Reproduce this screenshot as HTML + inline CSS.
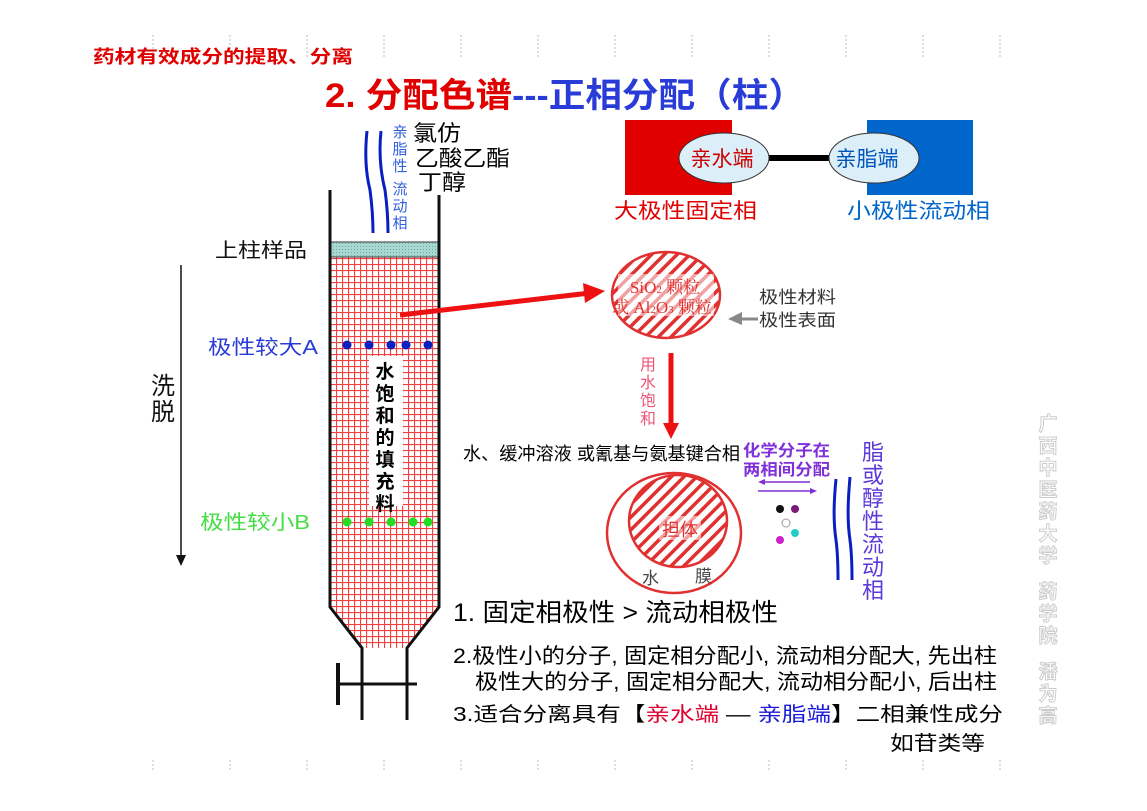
<!DOCTYPE html>
<html><head><meta charset="utf-8"><style>
html,body{margin:0;padding:0;background:#fff}
svg{display:block}
text{font-family:"Liberation Sans","Noto Sans CJK SC",sans-serif}
.s{font-family:"Liberation Serif","Noto Serif CJK SC",serif}
</style></head><body>
<svg width="1147" height="811" viewBox="0 0 1147 811" xmlns="http://www.w3.org/2000/svg">
<defs>
<pattern id="grid" width="6" height="6" patternUnits="userSpaceOnUse">
<rect width="6" height="6" fill="#fff"/>
<path d="M0 0.5H6M0.5 0V6" stroke="#f04040" stroke-width="1.2"/>
</pattern>
<pattern id="hatch" width="9" height="9" patternUnits="userSpaceOnUse" patternTransform="rotate(-45)">
<rect width="9" height="9" fill="#fff"/>
<rect width="9" height="3.5" fill="#e03030"/>
</pattern>
<pattern id="cap" width="3" height="3" patternUnits="userSpaceOnUse">
<rect width="3" height="3" fill="#a8d8d0"/><rect width="1" height="1" fill="#6aa"/>
</pattern>
</defs>
<g stroke="#ddd" stroke-width="2" stroke-dasharray="2,2">
<path d="M153 35V58M230 35V58M307 35V58M384 35V58M461 35V58M538 35V58M615 35V58M692 35V58M769 35V58M846 35V58M923 35V58M1000 35V58"/>
<path d="M153 760V772M230 760V772M307 760V772M384 760V772M461 760V772M538 760V772M615 760V772M692 760V772M769 760V772M846 760V772M923 760V772M1000 760V772"/>
</g>
<text x="93" y="63" font-size="18" font-weight="bold" fill="#e00000" textLength="260" lengthAdjust="spacingAndGlyphs">药材有效成分的提取、分离</text>
<text x="325" y="107" font-size="34" font-weight="bold" fill="#e00000" textLength="480" lengthAdjust="spacingAndGlyphs">2. 分配色谱<tspan fill="#2a3cd8">---正相分配（柱）</tspan></text>
<path d="M331 257V607L362 648H407L438 607V257Z" fill="url(#grid)"/>
<rect x="331" y="242" width="107" height="15" fill="url(#cap)" stroke="#333"/>
<path d="M330 190V607L362 648V720" fill="none" stroke="#111" stroke-width="3"/>
<path d="M439 195V607L407 648V720" fill="none" stroke="#111" stroke-width="3"/>
<path d="M338 663V705" stroke="#111" stroke-width="4"/>
<path d="M338 684H417" stroke="#111" stroke-width="3"/>
<rect x="369" y="356" width="34" height="150" fill="#fff"/>
<g font-size="19" fill="#000" font-weight="bold" text-anchor="middle">
<text x="385" y="378">水</text><text x="385" y="400">饱</text><text x="385" y="422">和</text><text x="385" y="444">的</text><text x="385" y="466">填</text><text x="385" y="488">充</text><text x="385" y="510">料</text></g>
<g fill="#0a1fbf"><circle cx="347" cy="345" r="4.5"/><circle cx="369" cy="345" r="4.5"/><circle cx="391" cy="345" r="4.5"/><circle cx="406" cy="345" r="4.5"/><circle cx="428" cy="345" r="4.5"/></g>
<g fill="#22dd22"><circle cx="347" cy="522" r="4.5"/><circle cx="369" cy="522" r="4.5"/><circle cx="391" cy="522" r="4.5"/><circle cx="413" cy="522" r="4.5"/><circle cx="428" cy="522" r="4.5"/></g>
<text x="215" y="257" font-size="20" fill="#111" textLength="92" lengthAdjust="spacingAndGlyphs">上柱样品</text>
<text x="208" y="354" font-size="20" fill="#2a3cd8" textLength="110" lengthAdjust="spacingAndGlyphs">极性较大A</text>
<text x="200" y="529" font-size="20" fill="#44dd44" textLength="110" lengthAdjust="spacingAndGlyphs">极性较小B</text>
<text x="151" y="394" font-size="24" fill="#111">洗</text>
<text x="151" y="420" font-size="24" fill="#111">脱</text>
<path d="M181 265V555" stroke="#111" stroke-width="1.5"/>
<path d="M176 555L181 566L186 555Z" fill="#111"/>
<path d="M367 131C365 150 365 170 370 190C372 205 373 220 373 233" fill="none" stroke="#0a1fbf" stroke-width="3"/>
<path d="M381 131C379 150 380 170 385 190C387 205 388 220 388 233" fill="none" stroke="#0a1fbf" stroke-width="3"/>
<g font-size="15" fill="#3060e0" text-anchor="middle"><text x="400" y="137">亲</text><text x="400" y="154">脂</text><text x="400" y="171">性</text><text x="400" y="194">流</text><text x="400" y="211">动</text><text x="400" y="228">相</text></g>
<g font-size="22" fill="#000"><text x="413" y="141" textLength="48" lengthAdjust="spacingAndGlyphs">氯仿</text><text x="415" y="166" textLength="95" lengthAdjust="spacingAndGlyphs">乙酸乙酯</text><text x="418" y="190" textLength="48" lengthAdjust="spacingAndGlyphs">丁醇</text></g>
<path d="M400 315L590 293" stroke="#ee1111" stroke-width="5"/>
<path d="M583 283L605 291L585 303Z" fill="#ee1111"/>
<ellipse cx="666" cy="295" rx="54" ry="43" fill="url(#hatch)" stroke="#e03030" stroke-width="2.5"/>
<rect x="618" y="274" width="96" height="42" fill="#fff" opacity="0.55"/>
<text x="665" y="293" font-size="17" fill="#e03030" text-anchor="middle" class="s">SiO<tspan font-size="11">2</tspan> 颗粒</text>
<text x="662" y="313" font-size="17" fill="#e03030" text-anchor="middle" class="s">或 Al<tspan font-size="11">2</tspan>O<tspan font-size="11">3</tspan> 颗粒</text>
<text x="759" y="303" font-size="17" fill="#333" textLength="77" lengthAdjust="spacingAndGlyphs">极性材料</text>
<text x="759" y="326" font-size="17" fill="#333" textLength="77" lengthAdjust="spacingAndGlyphs">极性表面</text>
<path d="M758 319H740" stroke="#888" stroke-width="3"/>
<path d="M742 312L728 319L742 325Z" fill="#888"/>
<path d="M671 353V425" stroke="#ee1111" stroke-width="5"/>
<path d="M663 423L671 439L679 423Z" fill="#ee1111"/>
<g font-size="16" fill="#ee5577" text-anchor="middle"><text x="648" y="370">用</text><text x="648" y="388">水</text><text x="648" y="406">饱</text><text x="648" y="424">和</text></g>
<text x="463" y="460" font-size="18" fill="#000" textLength="277" lengthAdjust="spacingAndGlyphs">水、缓冲溶液 或氰基与氨基键合相</text>
<text x="743" y="456" font-size="16" font-weight="bold" fill="#8030d8" textLength="87" lengthAdjust="spacingAndGlyphs">化学分子在</text>
<text x="743" y="475" font-size="16" font-weight="bold" fill="#8030d8" textLength="87" lengthAdjust="spacingAndGlyphs">两相间分配</text>
<path d="M760 482H810" stroke="#8030d8" stroke-width="1.5"/><path d="M765 479L758 482L765 485Z" fill="#8030d8"/>
<path d="M758 491H815" stroke="#8030d8" stroke-width="1.5"/><path d="M810 488L817 491L810 494Z" fill="#8030d8"/>
<ellipse cx="674" cy="533" rx="67" ry="60" fill="#fff" stroke="#e03030" stroke-width="2.5"/>
<ellipse cx="678" cy="521" rx="49" ry="46" fill="url(#hatch)" stroke="#e03030" stroke-width="2.5"/>
<rect x="659" y="516" width="42" height="24" fill="#fff" opacity="0.55"/>
<text x="680" y="536" font-size="18" fill="#e03030" text-anchor="middle">担体</text>
<text x="642" y="584" font-size="17" fill="#444">水</text>
<text x="695" y="582" font-size="17" fill="#444">膜</text>
<circle cx="780" cy="509" r="4" fill="#111"/><circle cx="795" cy="509" r="4" fill="#7a1a7a"/>
<circle cx="786" cy="523" r="4" fill="#fff" stroke="#999"/><circle cx="795" cy="533" r="4" fill="#22cccc"/>
<circle cx="780" cy="540" r="4" fill="#cc22cc"/>
<path d="M836 479C834 500 833 520 836 540C838 555 838 570 838 580" fill="none" stroke="#0a1fbf" stroke-width="3"/>
<path d="M850 477C848 500 847 520 850 540C852 555 852 570 852 580" fill="none" stroke="#0a1fbf" stroke-width="3"/>
<g font-size="22" fill="#5a3ad8" text-anchor="middle"><text x="873" y="460">脂</text><text x="873" y="483">或</text><text x="873" y="506">醇</text><text x="873" y="529">性</text><text x="873" y="552">流</text><text x="873" y="575">动</text><text x="873" y="598">相</text></g>
<rect x="625" y="120" width="107" height="75" fill="#e00000"/>
<rect x="867" y="120" width="106" height="75" fill="#0066cc"/>
<path d="M760 158H838" stroke="#000" stroke-width="6"/>
<ellipse cx="724" cy="158" rx="45" ry="25" fill="#dceef8" stroke="#333"/>
<ellipse cx="874" cy="158" rx="45" ry="25" fill="#dceef8" stroke="#333"/>
<text x="722" y="166" font-size="21" fill="#cc0000" text-anchor="middle">亲水端</text>
<text x="867" y="166" font-size="21" fill="#0055bb" text-anchor="middle">亲脂端</text>
<text x="614" y="218" font-size="21" fill="#e00000" textLength="143" lengthAdjust="spacingAndGlyphs">大极性固定相</text>
<text x="847" y="218" font-size="21" fill="#0066cc" textLength="143" lengthAdjust="spacingAndGlyphs">小极性流动相</text>
<text x="453" y="621" font-size="25" fill="#000" textLength="325" lengthAdjust="spacingAndGlyphs">1. 固定相极性 &gt; 流动相极性</text>
<text x="453" y="663" font-size="21" fill="#000" textLength="544" lengthAdjust="spacingAndGlyphs">2.极性小的分子, 固定相分配小, 流动相分配大, 先出柱</text>
<text x="475" y="689" font-size="21" fill="#000" textLength="522" lengthAdjust="spacingAndGlyphs">极性大的分子, 固定相分配大, 流动相分配小, 后出柱</text>
<text x="453" y="721" font-size="20" fill="#000" textLength="550" lengthAdjust="spacingAndGlyphs">3.适合分离具有【<tspan fill="#e00030">亲水端</tspan> — <tspan fill="#1a1ad8">亲脂端</tspan>】二相兼性成分</text>
<text x="890" y="750" font-size="20" fill="#000" textLength="95" lengthAdjust="spacingAndGlyphs">如苷类等</text>
<g font-size="19" font-weight="bold" fill="#fff" stroke="#ccc" stroke-width="1" text-anchor="middle">
<text x="1048" y="430">广</text><text x="1048" y="452">西</text><text x="1048" y="474">中</text><text x="1048" y="496">医</text><text x="1048" y="518">药</text><text x="1048" y="540">大</text><text x="1048" y="562">学</text>
<text x="1048" y="598">药</text><text x="1048" y="620">学</text><text x="1048" y="642">院</text>
<text x="1048" y="678">潘</text><text x="1048" y="700">为</text><text x="1048" y="722">高</text></g>
</svg>
</body></html>
